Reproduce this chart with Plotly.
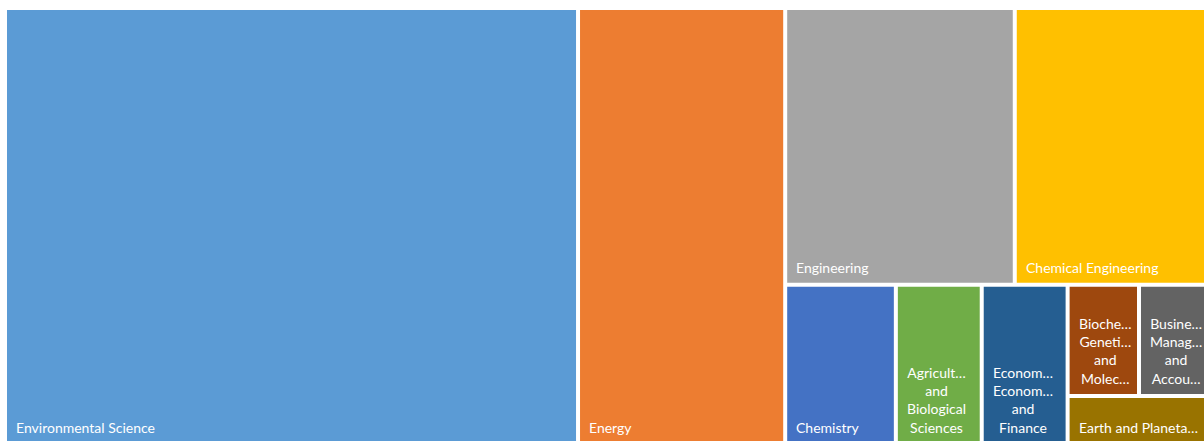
import plotly.graph_objects as go

# Documents per subject area
categories = [
    "Environmental Science",
    "Energy",
    "Engineering",
    "Chemical Engineering",
    "Chemistry",
    "Agricultural and Biological Sciences",
    "Economics, Econometrics and Finance",
    "Biochemistry, Genetics and Molecular Biology",
    "Business, Management and Accounting",
    "Earth and Planetary Sciences",
]
documents = [946, 342, 240, 202, 67, 52, 52, 30, 29, 26]

# Text shown inside each tile (shortened where the tile is narrow)
tile_labels = [
    "Environmental Science",
    "Energy",
    "Engineering",
    "Chemical Engineering",
    "Chemistry",
    "Agricult…<br>and<br>Biological<br>Sciences",
    "Econom…<br>Econom…<br>and<br>Finance",
    "Bioche…<br>Geneti…<br>and<br>Molec…",
    "Busine…<br>Manag…<br>and<br>Accou…",
    "Earth and Planeta…",
]

colors = ["#5B9BD5", "#ED7D31", "#A5A5A5", "#FFC000", "#4472C4",
          "#70AD47", "#255E91", "#9E480E", "#636363", "#997300"]

# number of tiles placed in each successive strip of the squarified layout
strip_sizes = [1, 1, 2, 1, 1, 1, 2, 1]

W, H = 1199, 433   # tiling area
GAP = 4            # white gap between tiles
VIEW_W, VIEW_H = 1197, 431


def strip_layout(vals, sizes, x0, y0, x1, y1):
    rects = []
    remaining = float(sum(vals))
    i = 0
    for n in sizes:
        part = vals[i:i + n]
        s = float(sum(part))
        w, h = x1 - x0, y1 - y0
        if w >= h:
            cw = w * s / remaining
            yy = y0
            for v in part:
                hh = h * v / s
                rects.append((x0, yy, x0 + cw, yy + hh))
                yy += hh
            x0 += cw
        else:
            rh = h * s / remaining
            xx = x0
            for v in part:
                ww = w * v / s
                rects.append((xx, y0, xx + ww, y0 + rh))
                xx += ww
            y0 += rh
        remaining -= s
        i += n
    return rects


half = GAP / 2
cells = strip_layout(documents, strip_sizes, -half, -half, W + half, H + half)
cells = [(a + half, b + half, c - half, d - half) for a, b, c, d in cells]

fig = go.Figure()
annotations = []
for (x0, y0, x1, y1), name, label, col in zip(cells, categories, tile_labels, colors):
    fig.add_trace(go.Scatter(
        x=[x0, x1, x1, x0, x0],
        y=[y0, y0, y1, y1, y0],
        mode="lines",
        line=dict(width=0, color=col),
        fill="toself",
        fillcolor=col,
        name=name,
        hoverinfo="skip",
        showlegend=False,
    ))
    annotations.append(dict(
        x=x0 + 8, y=y1 - 6,
        xref="x", yref="y",
        xanchor="left", yanchor="bottom",
        align="center",
        borderpad=0,
        text=label,
        showarrow=False,
        font=dict(family="Lato", size=14, color="#FFFFFF"),
    ))

fig.update_layout(
    width=1204, height=441,
    margin=dict(l=7, r=0, t=10, b=0),
    paper_bgcolor="#FFFFFF",
    plot_bgcolor="#FFFFFF",
    xaxis=dict(range=[0, VIEW_W], visible=False, fixedrange=True),
    yaxis=dict(range=[VIEW_H, 0], visible=False, fixedrange=True),
    annotations=annotations,
    showlegend=False,
)

fig.write_html("out.html")
